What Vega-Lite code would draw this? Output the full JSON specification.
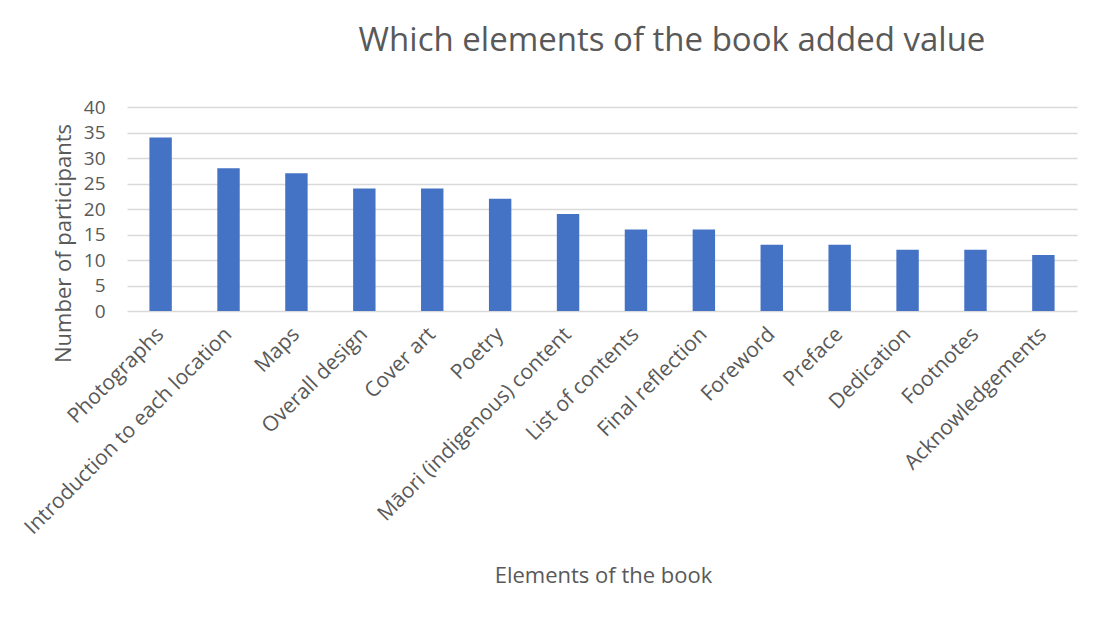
{
  "$schema": "https://vega.github.io/schema/vega-lite/v6.json",
  "width": 950,
  "height": 204,
  "autosize": {"type": "none"},
  "padding": {"left": 127, "top": 107, "right": 16, "bottom": 306},
  "background": "white",
  "title": {
    "text": "Which elements of the book added value",
    "fontSize": 33,
    "font": "Open Sans",
    "fontWeight": "normal",
    "color": "#595959",
    "anchor": "middle",
    "dx": 70,
    "offset": 40
  },
  "data": {
    "values": [
      {"element": "Photographs", "count": 34},
      {"element": "Introduction to each location", "count": 28},
      {"element": "Maps", "count": 27},
      {"element": "Overall design", "count": 24},
      {"element": "Cover art", "count": 24},
      {"element": "Poetry", "count": 22},
      {"element": "Māori (indigenous) content", "count": 19},
      {"element": "List of contents", "count": 16},
      {"element": "Final reflection", "count": 16},
      {"element": "Foreword", "count": 13},
      {"element": "Preface", "count": 13},
      {"element": "Dedication", "count": 12},
      {"element": "Footnotes", "count": 12},
      {"element": "Acknowledgements", "count": 11}
    ]
  },
  "mark": {"type": "bar", "color": "#4472c4"},
  "encoding": {
    "x": {
      "field": "element",
      "type": "nominal",
      "sort": null,
      "scale": {"paddingInner": 0.67, "paddingOuter": 0.33},
      "axis": {
        "title": "Elements of the book",
        "titleFont": "Open Sans",
        "titleFontSize": 22,
        "titleFontWeight": "normal",
        "titleColor": "#595959",
        "titleX": 476,
        "titleY": 264,
        "titleBaseline": "middle",
        "labelAngle": -45,
        "labelAlign": "right",
        "labelBaseline": "middle",
        "labelFont": "Open Sans",
        "labelFontSize": 21,
        "labelColor": "#595959",
        "labelPadding": 20,
        "labelLimit": 400,
        "ticks": false,
        "domain": false,
        "grid": false
      }
    },
    "y": {
      "field": "count",
      "type": "quantitative",
      "scale": {"domain": [0, 40]},
      "axis": {
        "title": "Number  of participants",
        "titleFont": "Open Sans",
        "titleFontSize": 22,
        "titleFontWeight": "normal",
        "titleColor": "#595959",
        "titleAngle": -90,
        "titleX": -64,
        "titleY": 136,
        "titleAlign": "center",
        "titleBaseline": "middle",
        "values": [0, 5, 10, 15, 20, 25, 30, 35, 40],
        "labelFont": "Open Sans",
        "labelFontSize": 19,
        "labelColor": "#595959",
        "labelPadding": 22,
        "ticks": false,
        "domain": false,
        "grid": true,
        "gridColor": "#d9d9d9",
        "gridWidth": 1.5
      }
    }
  },
  "config": {"view": {"stroke": null}}
}
